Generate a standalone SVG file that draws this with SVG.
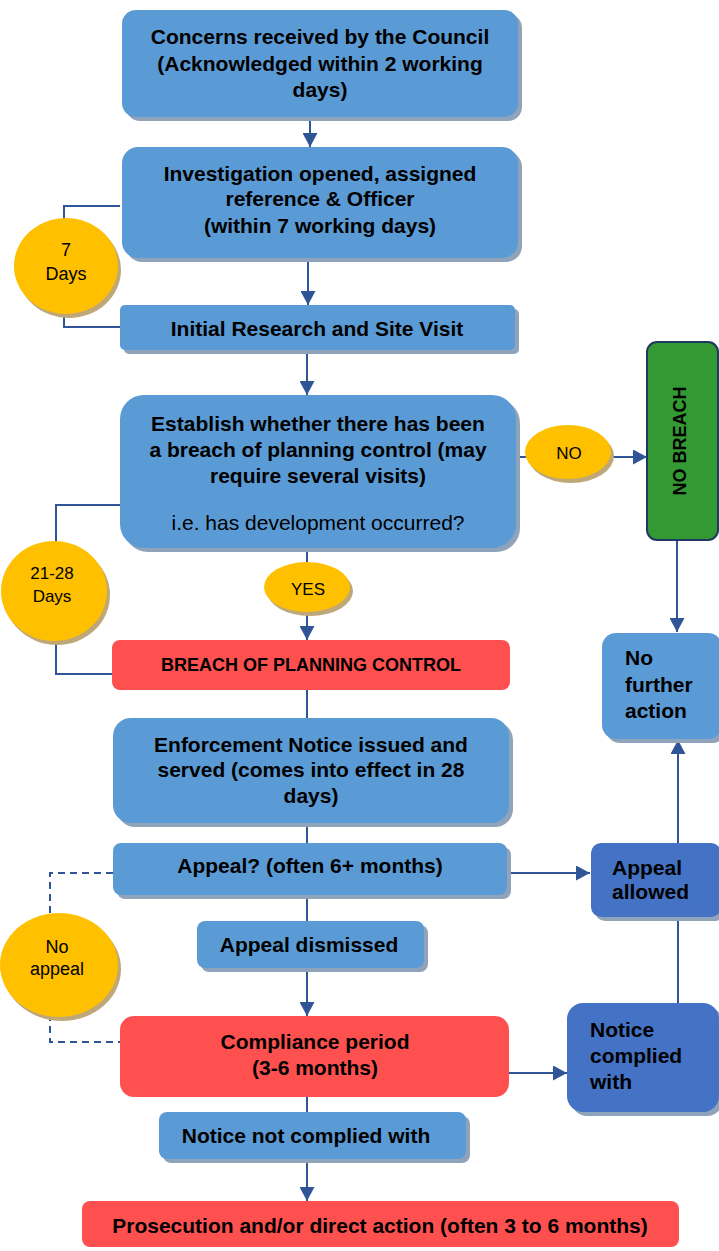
<svg xmlns="http://www.w3.org/2000/svg" width="719" height="1251" viewBox="0 0 719 1251">
<defs>
<style>
.b{fill:#5b9bd5}
.d{fill:#4472c4}
.r{fill:#ff5050}
.g{fill:#339933;stroke:#1f3864;stroke-width:2}
.y{fill:#ffc000}
.sh{fill:#8fa3bb}
.csh{fill:#bfa878}
.c{fill:none;stroke:#2f5597;stroke-width:2}
.dash{stroke-dasharray:7 5}
text{font-family:"Liberation Sans",Arial,sans-serif;fill:#000}
.t{font-size:21px;font-weight:bold;text-anchor:middle}
.tl{font-size:21px;font-weight:bold}
.n{font-size:21px;text-anchor:middle}
.s{font-size:18px;text-anchor:middle}
.k{font-size:17px;text-anchor:middle}
</style>
<marker id="ah" markerUnits="userSpaceOnUse" markerWidth="15" markerHeight="15" refX="14" refY="7.5" orient="auto">
<path d="M0,0 L14,7.5 L0,15 z" fill="#2f5597"/>
</marker>
</defs>
<rect width="719" height="1251" fill="#fff"/>
<g id="connectors">
<path class="c" d="M310,117 V147" marker-end="url(#ah)"/>
<path class="c" d="M308,258 V305" marker-end="url(#ah)"/>
<path class="c" d="M307,350 V395" marker-end="url(#ah)"/>
<path class="c" d="M120,206 H64 V327 H120"/>
<path class="c" d="M516,457 H530"/>
<path class="c" d="M610,457 H647" marker-end="url(#ah)"/>
<path class="c" d="M677,540 V632" marker-end="url(#ah)"/>
<path class="c" d="M307,548 V565"/>
<path class="c" d="M307,610 V640" marker-end="url(#ah)"/>
<path class="c" d="M120,505 H56 V674 H112"/>
<path class="c" d="M307,690 V718"/>
<path class="c" d="M307,823 V843"/>
<path class="c" d="M507,873 H590" marker-end="url(#ah)"/>
<path class="c" d="M678,843 V740" marker-end="url(#ah)"/>
<path class="c" d="M678,1003 V917"/>
<path class="c dash" d="M113,873 H50 V1042 H120"/>
<path class="c" d="M307,895 V921"/>
<path class="c" d="M307,968 V1016" marker-end="url(#ah)"/>
<path class="c" d="M509,1073 H567" marker-end="url(#ah)"/>
<path class="c" d="M307,1097 V1112"/>
<path class="c" d="M307,1159 V1201" marker-end="url(#ah)"/>
</g>
<g id="n1">
<rect class="sh" x="126" y="14" width="396" height="107" rx="14"/>
<rect class="b" x="122" y="10" width="396" height="107" rx="14"/>
<text class="t" x="320" y="44">Concerns received by the Council</text>
<text class="t" x="320" y="71">(Acknowledged within 2 working</text>
<text class="t" x="320" y="97">days)</text>
</g>
<g id="n2">
<rect class="sh" x="126" y="151" width="396" height="111" rx="16"/>
<rect class="b" x="122" y="147" width="396" height="111" rx="16"/>
<text class="t" x="320" y="181">Investigation opened, assigned</text>
<text class="t" x="320" y="206">reference &amp; Officer</text>
<text class="t" x="320" y="233">(within 7 working days)</text>
</g>
<g id="n7days">
<ellipse class="csh" cx="69" cy="270" rx="52" ry="48"/>
<ellipse class="y" cx="66" cy="266" rx="52" ry="48"/>
<text class="s" x="66" y="256">7</text>
<text class="s" x="66" y="280">Days</text>
</g>
<g id="n3">
<rect class="sh" x="124" y="309" width="395" height="45" rx="5"/>
<rect class="b" x="120" y="305" width="395" height="45" rx="5"/>
<text class="t" x="317" y="336">Initial Research and Site Visit</text>
</g>
<g id="n4">
<rect class="sh" x="124" y="399" width="396" height="153" rx="24"/>
<rect class="b" x="120" y="395" width="396" height="153" rx="24"/>
<text class="t" x="318" y="431">Establish whether there has been</text>
<text class="t" x="318" y="457">a breach of planning control (may</text>
<text class="t" x="318" y="483">require several visits)</text>
<text class="n" x="318" y="530">i.e. has development occurred?</text>
</g>
<g id="nNO">
<ellipse class="csh" cx="571" cy="456" rx="43" ry="27"/>
<ellipse class="y" cx="568" cy="452" rx="43" ry="27"/>
<text class="k" x="569" y="459">NO</text>
</g>
<g id="nNoBreach">
<rect class="g" x="647" y="342" width="71" height="198" rx="10"/>
<text class="s" font-weight="bold" transform="translate(686,441) rotate(-90)">NO BREACH</text>
</g>
<g id="nNoFurther">
<rect class="sh" x="606" y="637" width="120" height="106" rx="14"/>
<rect class="b" x="602" y="633" width="120" height="106" rx="14"/>
<text class="tl" x="625" y="665">No</text>
<text class="tl" x="625" y="692">further</text>
<text class="tl" x="625" y="718">action</text>
</g>
<g id="n2128">
<ellipse class="csh" cx="57" cy="595" rx="53" ry="50"/>
<ellipse class="y" cx="54" cy="591" rx="53" ry="50"/>
<text class="k" x="52" y="579">21-28</text>
<text class="k" x="52" y="602">Days</text>
</g>
<g id="nYES">
<ellipse class="csh" cx="310" cy="591" rx="43" ry="25"/>
<ellipse class="y" cx="307" cy="587" rx="43" ry="25"/>
<text class="k" x="308" y="595">YES</text>
</g>
<g id="n5">
<rect class="r" x="112" y="640" width="398" height="50" rx="8"/>
<text class="t" font-size="18" x="311" y="671" style="font-size:18px">BREACH OF PLANNING CONTROL</text>
</g>
<g id="n6">
<rect class="sh" x="117" y="722" width="396" height="105" rx="18"/>
<rect class="b" x="113" y="718" width="396" height="105" rx="18"/>
<text class="t" x="311" y="752">Enforcement Notice issued and</text>
<text class="t" x="311" y="777">served (comes into effect in 28</text>
<text class="t" x="311" y="803">days)</text>
</g>
<g id="n7">
<rect class="sh" x="117" y="847" width="394" height="52" rx="8"/>
<rect class="b" x="113" y="843" width="394" height="52" rx="8"/>
<text class="t" x="310" y="873">Appeal? (often 6+ months)</text>
</g>
<g id="nAllowed">
<rect class="sh" x="595" y="847" width="130" height="74" rx="10"/>
<rect class="d" x="591" y="843" width="130" height="74" rx="10"/>
<text class="tl" x="612" y="875">Appeal</text>
<text class="tl" x="612" y="899">allowed</text>
</g>
<g id="nNoAppeal">
<ellipse class="csh" cx="62" cy="969" rx="59" ry="52"/>
<ellipse class="y" cx="59" cy="965" rx="59" ry="52"/>
<text class="s" x="57" y="953">No</text>
<text class="s" x="57" y="975">appeal</text>
</g>
<g id="nDismissed">
<rect class="sh" x="201" y="925" width="227" height="47" rx="8"/>
<rect class="b" x="197" y="921" width="227" height="47" rx="8"/>
<text class="t" x="309" y="952">Appeal dismissed</text>
</g>
<g id="nCompliance">
<rect class="r" x="120" y="1016" width="389" height="81" rx="14"/>
<text class="t" x="315" y="1049">Compliance period</text>
<text class="t" x="315" y="1075">(3-6 months)</text>
</g>
<g id="nComplied">
<rect class="sh" x="571" y="1007" width="152" height="109" rx="16"/>
<rect class="d" x="567" y="1003" width="152" height="109" rx="16"/>
<text class="tl" x="590" y="1037">Notice</text>
<text class="tl" x="590" y="1063">complied</text>
<text class="tl" x="590" y="1089">with</text>
</g>
<g id="nNotComplied">
<rect class="sh" x="163" y="1116" width="307" height="47" rx="8"/>
<rect class="b" x="159" y="1112" width="307" height="47" rx="8"/>
<text class="t" x="306" y="1143">Notice not complied with</text>
</g>
<g id="nProsecution">
<rect class="r" x="82" y="1201" width="597" height="46" rx="8"/>
<text class="t" x="380" y="1233">Prosecution and/or direct action (often 3 to 6 months)</text>
</g>
</svg>
